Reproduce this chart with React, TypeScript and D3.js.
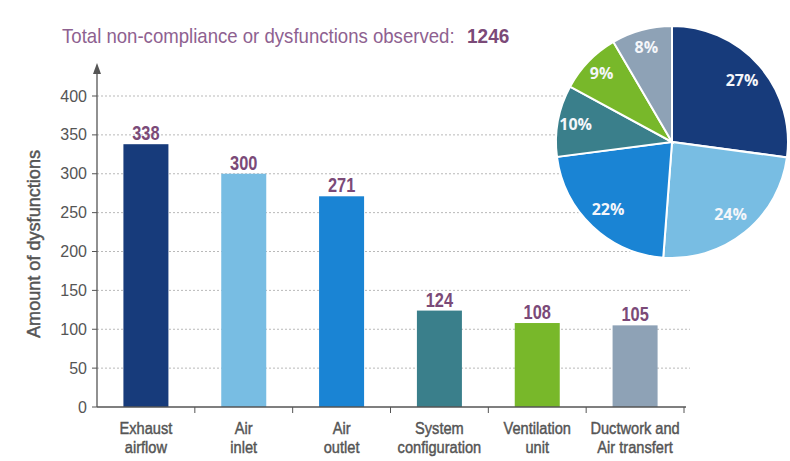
import React from "react";
import * as d3 from "d3";

const categories: string[][] = [
  ["Exhaust", "airflow"],
  ["Air", "inlet"],
  ["Air", "outlet"],
  ["System", "configuration"],
  ["Ventilation", "unit"],
  ["Ductwork and", "Air transfert"],
];
const values: number[] = [338, 300, 271, 124, 108, 105];
const colors: string[] = ["#173b7b", "#78bde3", "#1a84d4", "#3a7f8b", "#78b82a", "#8ea2b6"];
const yTicks: number[] = [0, 50, 100, 150, 200, 250, 300, 350, 400];
const total = 1246;

const W = 790;
const H = 461;

export default function App() {
  const x0 = 97;
  const x1 = 684;
  const y = d3.scaleLinear().domain([0, 400]).range([407, 96]);
  const x = d3
    .scaleBand<number>()
    .domain(values.map((_, i) => i))
    .range([x0, x1])
    .paddingInner(0.54)
    .paddingOuter(0.27);
  const sans = "'Liberation Sans', Arial, sans-serif";

  const pie = d3.pie<number>().sort(null).value((d) => d)(values);
  const arc = d3.arc<d3.PieArcDatum<number>>().innerRadius(0).outerRadius(116);
  const step = (x1 - x0) / values.length;

  return (
    <svg width={W} height={H} style={{ position: "absolute", left: 0, top: 0, background: "#fff" }}>
      <rect width={W} height={H} fill="#fff" />
      {/* title */}
      <text transform="translate(62,43) scale(0.93,1)" fontFamily={sans} fontSize={20} fill="#8e6190">
        Total non-compliance or dysfunctions observed:
      </text>
      <text transform="translate(467,43) scale(0.95,1)" fontFamily={sans} fontSize={20} fontWeight="bold" fill="#7b4a78">
        {total}
      </text>
      {/* grid */}
      {yTicks.filter((t) => t > 0).map((t) => (
        <line key={t} x1={x0} x2={690} y1={y(t)} y2={y(t)} stroke="#b9b9b9" strokeWidth={1} strokeDasharray="2,2" />
      ))}
      {/* y axis */}
      <line x1={x0} x2={x0} y1={407} y2={70} stroke="#555" strokeWidth={1.3} />
      <path d={`M${x0 - 4},${74} L${x0},${63} L${x0 + 4},${74} Z`} fill="#555" />
      {yTicks.map((t) => (
        <g key={t}>
          <line x1={x0 - 5} x2={x0} y1={y(t)} y2={y(t)} stroke="#555" />
          <text x={x0 - 10} y={y(t)} dy="0.35em" textAnchor="end" fontFamily={sans} fontSize={16} fill="#555">
            {t}
          </text>
        </g>
      ))}
      <text
        transform={`translate(40,244) rotate(-90)`}
        textAnchor="middle"
        fontFamily={sans}
        fontSize={17.5}
        fill="#555"
        stroke="#555"
        strokeWidth={0.45}
        textLength={188}
        lengthAdjust="spacingAndGlyphs"
      >
        Amount of dysfunctions
      </text>
      {/* bars */}
      {values.map((v, i) => {
        const cx = x(i)! + x.bandwidth() / 2;
        return (
          <g key={i}>
            <rect x={x(i)!} y={y(v)} width={x.bandwidth()} height={407 - y(v)} fill={colors[i]} />
            <text
              transform={`translate(${cx},${y(v) - 4}) scale(0.82,1)`}
              textAnchor="middle"
              fontFamily={sans}
              fontWeight="bold"
              fontSize={20}
              fill="#7b4a78"
            >
              {v}
            </text>
            {categories[i].map((line, j) => (
              <text
                key={j}
                transform={`translate(${cx},${434 + j * 19}) scale(0.86,1)`}
                textAnchor="middle"
                fontFamily={sans}
                fontSize={17}
                fill="#555"
                stroke="#555"
                strokeWidth={0.45}
              >
                {line}
              </text>
            ))}
          </g>
        );
      })}
      {/* x axis */}
      <line x1={x0} x2={x1 + 2} y1={407} y2={407} stroke="#555" strokeWidth={1.3} />
      {values.map((_, i) => (
        <line key={i} x1={x0 + step * (i + 1)} x2={x0 + step * (i + 1)} y1={407} y2={413} stroke="#555" />
      ))}
      {/* pie */}
      <g transform="translate(672,142)">
        {pie.map((p, i) => (
          <path key={i} d={arc(p)!} fill={colors[i]} stroke="#fff" strokeWidth={2} />
        ))}
        {pie.map((p, i) => {
          const r = i >= 3 ? 98 : 93;
          const a = (p.startAngle + p.endAngle) / 2;
          const lx = Math.sin(a) * r;
          const ly = -Math.cos(a) * r;
          return (
            <text key={i} x={lx} y={ly} dy="0.35em" textAnchor="middle" fontFamily="'Open Sans', sans-serif" fontWeight="bold" fontSize={16} fill="#f4f6fa">
              {Math.round((p.value / total) * 100)}%
            </text>
          );
        })}
      </g>
    </svg>
  );
}
